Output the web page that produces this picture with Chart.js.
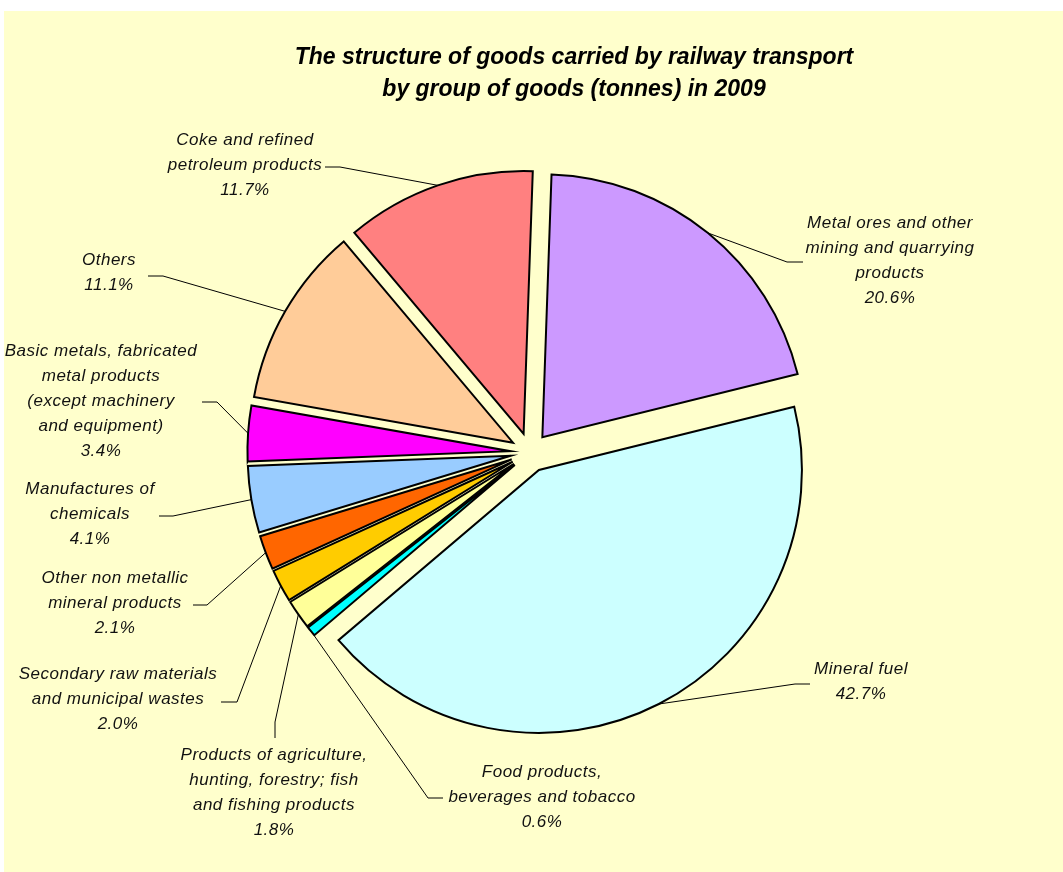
<!DOCTYPE html>
<html><head><meta charset="utf-8">
<script src="https://cdn.jsdelivr.net/npm/chart.js@4.4.0/dist/chart.umd.min.js"></script>
<style>html,body{margin:0;padding:0;background:#fff;}canvas{display:block;}</style>
</head><body>
<canvas id="c" width="1063" height="872"></canvas>
<script>
// ---- data ----
const categories = [
  'Metal ores and other mining and quarrying products',
  'Mineral fuel',
  'Food products, beverages and tobacco',
  'Products of agriculture, hunting, forestry; fish and fishing products',
  'Secondary raw materials and municipal wastes',
  'Other non metallic mineral products',
  'Manufactures of chemicals',
  'Basic metals, fabricated metal products (except machinery and equipment)',
  'Others',
  'Coke and refined petroleum products'
];
const shares = [20.6, 42.7, 0.6, 1.8, 2.0, 2.1, 4.1, 3.4, 11.1, 11.7];
const shareLabels = ['20.6%', '42.7%', '0.6%', '1.8%', '2.0%', '2.1%', '4.1%', '3.4%', '11.1%', '11.7%'];
const sliceColors = ['#CC99FF', '#CCFFFF', '#00FFFF', '#FFFF99', '#FFCC00', '#FF6600', '#99CCFF', '#FF00FF', '#FFCC99', '#FF8080'];
const labelLines = [
  ['Metal ores and other', 'mining and quarrying', 'products'],
  ['Mineral fuel'],
  ['Food products,', 'beverages and tobacco'],
  ['Products of agriculture,', 'hunting, forestry; fish', 'and fishing products'],
  ['Secondary raw materials', 'and municipal wastes'],
  ['Other non metallic', 'mineral products'],
  ['Manufactures of', 'chemicals'],
  ['Basic metals, fabricated', 'metal products', '(except machinery', 'and equipment)'],
  ['Others'],
  ['Coke and refined', 'petroleum products']
];
const titleLines = ['The structure of goods carried by railway transport', 'by group of goods (tonnes) in 2009'];

// ---- layout (positions only) ----
const labelLayout = [
  {x: 890, y: 223.5, bend: [787, 262], end: [803, 262]},
  {x: 861, y: 669.5, bend: [795, 684], end: [810, 684]},
  {x: 542, y: 772.5, bend: [428, 798], end: [443, 798]},
  {x: 274, y: 755, bend: [275, 722], end: [275, 738]},
  {x: 118, y: 674, bend: [237, 702], end: [221, 702]},
  {x: 115, y: 578, bend: [207, 605], end: [193, 605]},
  {x: 90, y: 489, bend: [173, 516], end: [159, 516]},
  {x: 101, y: 351, bend: [217, 402], end: [202, 402]},
  {x: 109, y: 260, bend: [163, 276], end: [148, 276]},
  {x: 245, y: 140, bend: [340, 167], end: [325, 167]}
];
const explode = 19.6;
const lineGap = 25;
const labelFont = 'italic 17px "Liberation Sans", Arial, sans-serif';
const titleFont = 'italic bold 23px "Liberation Sans", Arial, sans-serif';

const backgroundPlugin = {
  id: 'bg',
  beforeDraw(chart) {
    const ctx = chart.ctx;
    ctx.save();
    ctx.fillStyle = '#ffffff';
    ctx.fillRect(0, 0, chart.width, chart.height);
    ctx.fillStyle = '#FFFFCC';
    ctx.fillRect(4, 11, chart.width - 4, chart.height - 11);
    ctx.restore();
  }
};

const explodePlugin = {
  id: 'explode',
  afterDatasetsUpdate(chart) {
    const meta = chart.getDatasetMeta(0);
    meta.data.forEach(arc => {
      const mid = (arc.startAngle + arc.endAngle) / 2;
      arc.x += Math.cos(mid) * explode;
      arc.y += Math.sin(mid) * explode;
    });
  }
};

const labelPlugin = {
  id: 'labels',
  afterDatasetsDraw(chart) {
    const ctx = chart.ctx;
    const meta = chart.getDatasetMeta(0);
    ctx.save();
    // title
    ctx.fillStyle = '#000';
    ctx.font = titleFont;
    ctx.textAlign = 'center';
    ctx.textBaseline = 'middle';
    ctx.fillText(titleLines[0], 574, 58);
    ctx.fillText(titleLines[1], 574, 90);
    // leader lines + labels
    meta.data.forEach((arc, i) => {
      const L = labelLayout[i];
      const mid = (arc.startAngle + arc.endAngle) / 2;
      const ax = arc.x + Math.cos(mid) * arc.outerRadius;
      const ay = arc.y + Math.sin(mid) * arc.outerRadius;
      ctx.strokeStyle = '#000';
      ctx.lineWidth = 1;
      ctx.beginPath();
      ctx.moveTo(ax, ay);
      ctx.lineTo(L.bend[0], L.bend[1]);
      ctx.lineTo(L.end[0], L.end[1]);
      ctx.stroke();
      ctx.font = labelFont;
      ctx.letterSpacing = '0.5px';
      ctx.fillStyle = '#111';
      const lines = labelLines[i].concat([shareLabels[i]]);
      lines.forEach((t, k) => ctx.fillText(t, L.x, L.y + k * lineGap));
    });
    ctx.restore();
  }
};

new Chart(document.getElementById('c'), {
  type: 'pie',
  data: {
    labels: categories,
    datasets: [{
      data: shares,
      backgroundColor: sliceColors,
      borderColor: '#000',
      borderWidth: 2,
      borderJoinStyle: 'miter',
      radius: 263
    }]
  },
  options: {
    responsive: false,
    animation: false,
    rotation: 2,
    layout: {padding: {left: 200, right: 203, top: 150, bottom: 117}},
    plugins: {legend: {display: false}, tooltip: {enabled: false}, title: {display: false}}
  },
  plugins: [backgroundPlugin, explodePlugin, labelPlugin]
});
</script>
</body></html>
